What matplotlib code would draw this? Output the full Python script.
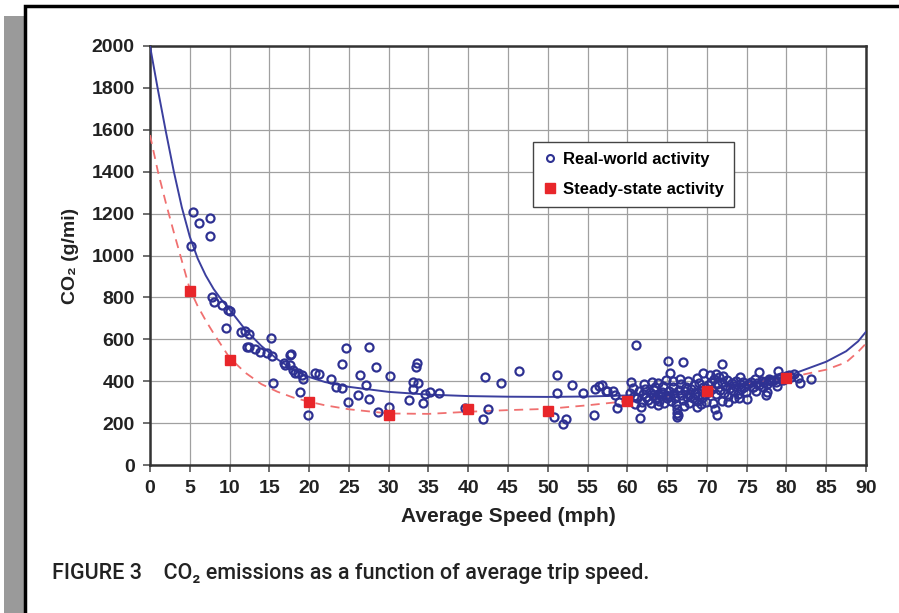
import numpy as np
import matplotlib.pyplot as plt
from matplotlib.patches import Rectangle
from matplotlib.lines import Line2D

# real-world trips (speed mph, CO2 g/mi)
rw_speed = [5.1, 5.4, 6.2, 7.5, 7.6, 7.8, 8.0, 9.0, 9.6, 9.8, 10.1, 11.5, 11.9, 12.2,
            12.5, 12.5, 13.2, 13.8, 14.7, 15.2, 15.3, 15.4, 16.8, 17.0, 17.6, 17.6,
            17.7, 18.0, 18.2, 18.6, 18.8, 19.1, 19.2, 19.9, 20.7, 21.2, 22.8, 23.4,
            24.1, 24.1, 24.6, 24.9, 26.2, 26.4, 27.1, 27.5, 27.5, 28.4, 28.6, 30.0,
            30.2, 32.5, 33.0, 33.1, 33.4, 33.5, 33.7, 34.3, 34.6, 35.2, 36.3,
            39.6, 41.8, 42.1, 42.5, 44.1, 46.4, 50.8, 51.1, 51.1, 51.9, 52.3, 53.0,
            54.4, 55.8, 55.9, 56.5, 56.8, 57.3, 57.4, 58.2, 58.4, 58.7, 58.9,
            60.5, 60.7, 61.1, 61.6, 61.7, 63.1, 63.9, 64.9, 65.1, 65.4, 67.0, 68.7,
            69.5, 70.8, 71.0, 71.3, 71.9, 71.9, 74.1, 75.0, 75.8, 76.6, 77.0, 77.4,
            77.9, 79.0, 81.4, 81.7, 83.1,
            60.3, 60.8, 61.2, 61.5, 61.8, 62.0, 62.2, 62.4, 62.6, 62.8, 63.0, 63.2,
            63.4, 63.6, 63.8, 64.0, 64.2, 64.4, 64.6, 64.8, 65.0, 62.1, 63.5, 64.5,
            61.0, 63.9,
            65.2, 65.4, 65.5, 65.7, 65.9, 66.0, 66.1, 66.2, 66.3, 66.4, 66.3, 66.5,
            66.7, 66.8, 67.0, 67.2, 67.4, 67.5, 67.7, 67.9, 68.0, 68.2, 68.4, 68.5,
            68.7, 68.9, 69.0, 69.2, 69.4, 69.5, 69.7, 69.9, 66.6, 67.6, 68.8, 65.8,
            67.1, 69.3,
            70.1, 70.3, 70.5, 70.7, 70.9, 71.1, 71.3, 71.5, 71.7, 71.9, 72.1, 72.3,
            72.5, 72.7, 72.9, 73.1, 73.3, 73.5, 73.7, 73.9, 74.1, 74.3, 74.5, 74.7,
            74.9, 70.4, 71.2, 72.0, 72.6, 73.4, 74.0,
            75.2, 75.5, 75.8, 76.0, 76.3, 76.6, 76.9, 77.2, 77.5, 77.8, 78.1, 78.4,
            78.7, 79.0, 79.3, 79.6, 79.9, 80.3, 80.6, 80.9, 76.2, 77.6, 78.8]
rw_co2 = [1047, 1209, 1154, 1094, 1177, 800, 780, 764, 652, 740, 735, 636, 641, 562,
          625, 563, 552, 541, 533, 608, 520, 390, 485, 477, 525, 477,
          528, 453, 437, 437, 350, 430, 409, 239, 437, 434, 409, 374,
          366, 481, 557, 302, 334, 430, 382, 565, 315, 468, 254, 275,
          425, 310, 395, 363, 466, 488, 390, 294, 339, 350, 345,
          270, 221, 418, 267, 393, 450, 231, 430, 345, 194, 218, 382,
          345, 239, 361, 379, 382, 355, 353, 353, 334, 271, 302,
          398, 366, 573, 223, 275, 398, 390, 406, 498, 441, 493, 278,
          441, 297, 266, 239, 307, 482, 422, 313, 374, 442, 371, 334,
          406, 449, 414, 393, 410,
          345, 330, 318, 352, 300, 340, 362, 325, 310, 348, 295, 332,
          358, 315, 340, 305, 328, 350, 298, 336, 318, 385, 372, 375,
          290, 288,
          355, 330, 305, 372, 345, 320, 290, 265, 250, 240, 228, 360,
          385, 335, 310, 352, 370, 325, 298, 340, 362, 318, 380, 345,
          305, 330, 392, 355, 320, 372, 340, 300, 410, 400, 415, 400,
          282, 290,
          380, 350, 395, 365, 410, 340, 385, 420, 360, 395, 345, 375,
          405, 330, 368, 390, 352, 378, 400, 340, 385, 362, 395, 372,
          350, 430, 435, 425, 300, 318, 322,
          385, 398, 372, 410, 390, 380, 402, 395, 388, 412, 400, 405,
          395, 415, 420, 408, 425, 430, 418, 435, 355, 350, 378]

# steady-state test points
ss_speed = [5, 10, 20, 30, 40, 50, 60, 70, 80]
ss_co2 = [830, 500, 300, 240, 265, 260, 305, 355, 415]

# fitted curves
fit_speed = [0, 1, 2, 3, 4, 5, 6, 7, 8, 9, 10, 12, 14, 16, 18, 20, 22, 25, 30, 35,
             40, 45, 50, 55, 60, 65, 70, 75, 80, 85, 87.5, 89, 90]
rw_fit = [2000, 1790, 1590, 1400, 1230, 1090, 985, 905, 840, 788, 742, 645, 568,
          505, 455, 420, 396, 373, 349, 336, 329, 326, 325, 327, 332, 343, 362,
          390, 423, 493, 543, 590, 636]
ss_fit = [1575, 1400, 1250, 1110, 975, 840, 758, 690, 628, 570, 512, 440, 386,
          350, 322, 302, 285, 266, 246, 244, 254, 262, 268, 285, 305, 330, 358,
          385, 415, 455, 490, 540, 580]

navy = '#2e3192'
red = '#e8262a'

plt.rcParams['font.family'] = ['Liberation Sans', 'DejaVu Sans']
plt.rcParams['font.weight'] = 'bold'

fig = plt.figure(figsize=(8.99, 6.13), dpi=100)

# page frame with a shadow on the left
fig.patches.append(Rectangle((4 / 899, 0), 20 / 899, 1 - 16 / 613, transform=fig.transFigure,
                             facecolor='#9a9a9a', edgecolor='none', zorder=0))
fig.patches.append(Rectangle((25 / 899, -0.01), 1, 1 - 6 / 613 + 0.01, transform=fig.transFigure,
                             facecolor='white', edgecolor='black', linewidth=2.5, zorder=1))

ax = fig.add_axes([150 / 899, 1 - 465 / 613, 716 / 899, 419 / 613])
ax.set_zorder(2)

ax.plot(fit_speed, rw_fit, color='#3b3f9e', lw=1.4, zorder=3)
ax.plot(fit_speed, ss_fit, color='#f07070', lw=1.3, ls=(0, (5, 3.5)), zorder=3)
ax.plot(rw_speed, rw_co2, ls='none', marker='o', ms=5.8, mfc='none', mec=navy,
        mew=1.6, zorder=4)
ax.plot(ss_speed, ss_co2, ls='none', marker='s', ms=7.5, color=red, zorder=5)

ax.set_xlim(0, 90)
ax.set_ylim(0, 2000)
ax.set_xticks(range(0, 91, 5))
ax.set_yticks(range(0, 2001, 200))
ax.grid(True, color='#a0a0a0', lw=0.9)
ax.set_axisbelow(True)
for s in ax.spines.values():
    s.set_color('#333333')
    s.set_linewidth(1.8)
ax.tick_params(direction='out', length=5, width=1.2, color='#555555',
               labelsize=14, labelcolor='#222222', pad=6)

ax.set_xlabel('Average Speed (mph)', fontsize=15, fontweight='bold', color='#222222', labelpad=7)
ax.set_ylabel('CO₂ (g/mi)', fontsize=14, fontweight='bold', color='#222222', labelpad=9)

handles = [Line2D([], [], ls='none', marker='o', ms=5, mfc='none', mec=navy, mew=1.5),
           Line2D([], [], ls='none', marker='s', ms=7.5, color=red)]
ax.legend(handles, ['Real-world activity', 'Steady-state activity'],
          loc='upper left', bbox_to_anchor=(0.535, 0.771), borderaxespad=0,
          fancybox=False, framealpha=1, edgecolor='#444444', handlelength=0.8,
          handletextpad=0.4, borderpad=0.6, labelspacing=0.9,
          prop={'weight': 'bold', 'size': 12})

fig.text(52 / 899, 1 - 573 / 613, 'FIGURE 3    CO₂ emissions as a function of average trip speed.',
         fontsize=15.5, fontweight='medium', color='#222222', va='center',
         family=['Roboto', 'DejaVu Sans'])

fig.savefig('out.png', dpi=100)
